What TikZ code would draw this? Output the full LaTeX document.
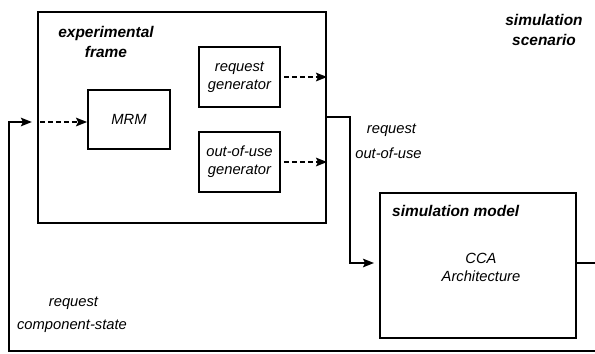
\documentclass[tikz,border=0pt]{standalone}
\usepackage{fontspec}
\setmainfont{Liberation Sans}
\usetikzlibrary{arrows.meta}
\begin{document}
\begin{tikzpicture}[x=1bp,y=-1bp,
  txt/.style={font=\fontsize{14.8}{18}\selectfont\itshape, inner sep=0pt},
  btxt/.style={font=\fontsize{15.5}{20}\selectfont\bfseries\itshape, inner sep=0pt, align=center},
  blk/.style={draw, line width=1.8pt, inner sep=0pt},
  conn/.style={line width=2pt},
  tip/.style={-{Stealth[length=11pt,width=8.5pt,inset=2pt]}},
  dsh/.style={dash pattern=on 5pt off 3pt}]
\useasboundingbox (0,0) rectangle (595,353);
% experimental frame
\node[blk, line width=2.2pt, minimum width=288bp, minimum height=211bp] (ef) at (182,117.5) {};
\node[btxt] (eft) at (106,42) {experimental\\frame};
\node[blk, minimum width=82bp, minimum height=59bp, txt] (mrm) at (129,119.5) {MRM};
\node[blk, minimum width=81bp, minimum height=60bp, txt, align=center] (rg) at (239.5,77) {request\\generator};
\node[blk, minimum width=81bp, minimum height=60bp, txt, align=center] (og) at (239.5,162) {out-of-use\\generator};
% simulation model
\node[blk, line width=2pt, minimum width=196bp, minimum height=145bp] (sm) at (478,265.5) {};
\node[btxt, anchor=west] (smt) at (392,211) {simulation model};
\node[txt, align=center] (cca) at (481,267) {CCA\\Architecture};
\node[btxt] (ss) at (544,30) {simulation\\scenario};
% labels
\node[txt] (l1) at (391.5,130) {request};
\node[txt] (l2) at (388.5,153) {out-of-use};
\node[txt] (l3) at (73.5,303) {request};
\node[txt] (l4) at (72,326) {component-state};
% internal dashed arrows
\coordinate (in) at (40,122);
\draw[conn, dsh, tip] (in) -- (mrm.west |- in);
\draw[conn, dsh, tip] ([xshift=3bp]rg.east) -- (ef.east |- rg);
\draw[conn, dsh, tip] ([xshift=3bp]og.east) -- (ef.east |- og);
% frame output to simulation model
\coordinate (bend) at (350,117);
\draw[conn, tip] (ef.east |- bend) -- (bend) |- ([xshift=-5bp]sm.west |- 0,263);
% feedback loop from simulation model to experimental frame
\coordinate (outr) at (595,263);
\coordinate (botr) at (595,351);
\coordinate (botl) at (9,351);
\draw[conn] (sm.east |- outr) -- (outr);
\draw[conn, tip] (botr) -- (botl) |- ([xshift=-5bp]ef.west |- in);
\end{tikzpicture}
\end{document}
